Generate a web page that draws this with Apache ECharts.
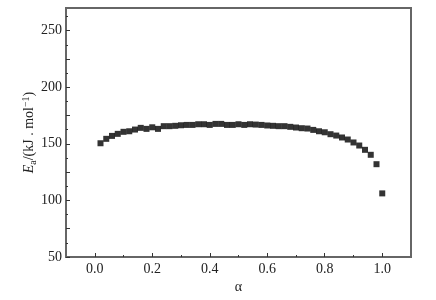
<!DOCTYPE html>
<html>
<head>
<meta charset="utf-8">
<script src="https://cdn.jsdelivr.net/npm/echarts@6/dist/echarts.min.js"></script>
<style>html,body{margin:0;padding:0;background:#fff}#c{width:436px;height:300px}</style>
</head>
<body>
<div id="c"></div>
<script>
const alphaValues = [0.02,0.04,0.06,0.08,0.10,0.12,0.14,0.16,0.18,0.20,0.22,0.24,0.26,0.28,0.30,0.32,0.34,0.36,0.38,0.40,0.42,0.44,0.46,0.48,0.50,0.52,0.54,0.56,0.58,0.60,0.62,0.64,0.66,0.68,0.70,0.72,0.74,0.76,0.78,0.80,0.82,0.84,0.86,0.88,0.90,0.92,0.94,0.96,0.98,1.00];
const eaValues = [150.5,154.4,157.0,158.8,160.6,161.1,162.6,164.1,163.2,164.6,163.2,165.6,165.6,165.9,166.4,166.7,166.7,167.3,167.3,166.7,167.6,167.6,166.7,166.7,167.3,166.7,167.3,167.0,166.7,166.2,165.9,165.6,165.6,165.0,164.4,163.8,163.5,162.3,161.1,160.2,158.5,157.3,155.6,153.8,151.2,148.5,144.7,140.3,132.0,106.2];
const xTickLabels = [0.0,0.2,0.4,0.6,0.8,1.0];
const xMinorTicks = [0.1,0.3,0.5,0.7,0.9];
const yTickLabels = [50,100,150,200,250];
const yMidTicks = [75,125,175,225];
const ySmallTicks = [62.5,87.5,112.5,137.5,162.5,187.5,212.5,237.5,262.5];
</script>
<script>
const points = alphaValues.map((a,i)=>[a, eaValues[i]]);
const axisColor = '#666';
const font = 'Liberation Serif';
const chart = echarts.init(document.getElementById('c'));
const xBase = {type:'value', min:-0.1, max:1.1, gridIndex:0, splitLine:{show:false}};
const yBase = {type:'value', min:50, max:270, gridIndex:0, splitLine:{show:false}};
chart.setOption({
  animation:false,
  backgroundColor:'#fff',
  grid:{left:66, right:25, top:8, bottom:43, show:true, borderColor:axisColor, borderWidth:2, backgroundColor:'transparent'},
  xAxis:[
    Object.assign({}, xBase, {
      position:'bottom',
      axisLine:{show:true, onZero:false, lineStyle:{color:axisColor, width:2}},
      axisTick:{show:true, inside:true, length:4, customValues:xTickLabels, lineStyle:{color:'#333', width:1}},
      axisLabel:{show:true, customValues:xTickLabels, formatter:v=>v.toFixed(1), color:'#222', fontFamily:font, fontSize:14, margin:5},
      name:'α', nameLocation:'middle', nameGap:23, nameMoveOverlap:false, nameTextStyle:{color:'#222', fontFamily:font, fontSize:14}
    }),
    Object.assign({}, xBase, {
      position:'bottom',
      axisLine:{show:false, onZero:false},
      axisTick:{show:true, inside:true, length:2, customValues:xMinorTicks, lineStyle:{color:'#333', width:1}},
      axisLabel:{show:false}
    })
  ],
  yAxis:[
    Object.assign({}, yBase, {
      position:'left',
      axisLine:{show:true, onZero:false, lineStyle:{color:axisColor, width:2}},
      axisTick:{show:true, inside:true, length:4, customValues:yTickLabels, lineStyle:{color:'#333', width:1}},
      axisLabel:{show:true, customValues:yTickLabels, color:'#222', fontFamily:font, fontSize:14, margin:4},
      name:'{i|E}{sub|a}{n|/(kJ . mol}{sup|−1}{n|)}', nameLocation:'middle', nameGap:28, nameRotate:90, nameMoveOverlap:false,
      nameTextStyle:{color:'#222', fontFamily:font, fontSize:14, rich:{
        i:{fontStyle:'italic', fontFamily:font, fontSize:14, color:'#222'},
        sub:{fontFamily:font, fontSize:10, color:'#222', verticalAlign:'bottom', padding:[7,0,0,0]},
        n:{fontFamily:font, fontSize:14, color:'#222'},
        sup:{fontFamily:font, fontSize:10, color:'#222', verticalAlign:'top', padding:[0,0,7,0]}
      }}
    }),
    Object.assign({}, yBase, {
      position:'left',
      axisLine:{show:false, onZero:false},
      axisTick:{show:true, inside:true, length:4, customValues:yMidTicks, lineStyle:{color:'#333', width:1}},
      axisLabel:{show:false}
    }),
    Object.assign({}, yBase, {
      position:'left',
      axisLine:{show:false, onZero:false},
      axisTick:{show:true, inside:true, length:2, customValues:ySmallTicks, lineStyle:{color:'#333', width:1}},
      axisLabel:{show:false}
    })
  ],
  series:[{
    type:'scatter', xAxisIndex:0, yAxisIndex:0,
    data:points, symbol:'rect', symbolSize:6,
    itemStyle:{color:'#000'}
  }]
});
</script>
</body>
</html>
